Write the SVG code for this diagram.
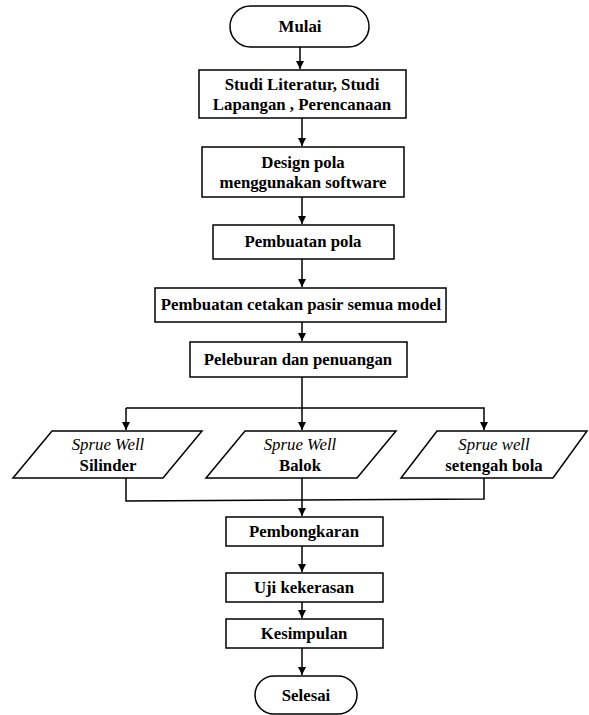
<svg xmlns="http://www.w3.org/2000/svg" width="589" height="715" viewBox="0 0 589 715">
<defs>
<marker id="ah" viewBox="0 0 10 10" refX="10" refY="5" markerWidth="8" markerHeight="8" markerUnits="userSpaceOnUse" orient="auto">
<path d="M0,0 L10,5 L0,10 z" fill="#000"/>
</marker>
<style>
.s{fill:#fff;stroke:#000;stroke-width:1.5}
.t{font-family:"Liberation Serif","Times New Roman",serif;font-size:16.8px;font-weight:bold;fill:#000;text-anchor:middle}
.i{font-style:italic;font-weight:normal}
.c{fill:none;stroke:#000;stroke-width:1.5}
</style>
</defs>
<rect width="589" height="715" fill="#fff"/>
<g id="connectors">
<line class="c" x1="300" y1="47" x2="300" y2="69" marker-end="url(#ah)"/>
<line class="c" x1="302" y1="118" x2="302" y2="146" marker-end="url(#ah)"/>
<line class="c" x1="302" y1="197" x2="302" y2="224" marker-end="url(#ah)"/>
<line class="c" x1="302" y1="259" x2="302" y2="287" marker-end="url(#ah)"/>
<line class="c" x1="302" y1="322" x2="302" y2="341" marker-end="url(#ah)"/>
<line class="c" x1="302" y1="377" x2="302" y2="430" marker-end="url(#ah)"/>
<polyline class="c" points="126,408 484,408 484,430" marker-end="url(#ah)"/>
<line class="c" x1="126" y1="408" x2="126" y2="430" marker-end="url(#ah)"/>
<polyline class="c" points="126,478 126,501 484,499 484,478"/>
<line class="c" x1="302" y1="478" x2="302" y2="516" marker-end="url(#ah)"/>
<line class="c" x1="302" y1="546" x2="302" y2="572" marker-end="url(#ah)"/>
<line class="c" x1="302" y1="602" x2="302" y2="618" marker-end="url(#ah)"/>
<line class="c" x1="302" y1="648" x2="302" y2="675" marker-end="url(#ah)"/>
</g>
<g id="mulai">
<rect class="s" x="230" y="6" width="139" height="41" rx="20.5"/>
<text class="t" x="300" y="32">Mulai</text>
</g>
<g id="studi">
<rect class="s" x="199" y="70" width="207" height="48"/>
<text class="t" x="302" y="90">Studi Literatur, Studi</text>
<text class="t" x="302" y="110">Lapangan , Perencanaan</text>
</g>
<g id="design">
<rect class="s" x="202" y="147" width="202" height="50"/>
<text class="t" x="303" y="168">Design pola</text>
<text class="t" x="303" y="188">menggunakan software</text>
</g>
<g id="pembuatan-pola">
<rect class="s" x="213" y="225" width="181" height="34"/>
<text class="t" x="303" y="247">Pembuatan pola</text>
</g>
<g id="cetakan">
<rect class="s" x="155" y="288" width="291" height="34"/>
<text class="t" x="301" y="310">Pembuatan cetakan pasir semua model</text>
</g>
<g id="peleburan">
<rect class="s" x="190" y="342" width="217" height="35"/>
<text class="t" x="298" y="365">Peleburan dan penuangan</text>
</g>
<g id="silinder">
<polygon class="s" points="52,431 202,431 163,478 13,478"/>
<text class="t i" x="108" y="450">Sprue Well</text>
<text class="t" x="108" y="471">Silinder</text>
</g>
<g id="balok">
<polygon class="s" points="245,431 396,431 357,478 206,478"/>
<text class="t i" x="300" y="450">Sprue Well</text>
<text class="t" x="300" y="471">Balok</text>
</g>
<g id="setengah-bola">
<polygon class="s" points="437,431 587,431 553,478 401,478"/>
<text class="t i" x="494" y="450">Sprue well</text>
<text class="t" x="494" y="471">setengah bola</text>
</g>
<g id="pembongkaran">
<rect class="s" x="226" y="517" width="157" height="29"/>
<text class="t" x="304" y="537">Pembongkaran</text>
</g>
<g id="uji">
<rect class="s" x="226" y="573" width="157" height="29"/>
<text class="t" x="304" y="593">Uji kekerasan</text>
</g>
<g id="kesimpulan">
<rect class="s" x="226" y="619" width="157" height="29"/>
<text class="t" x="304" y="639">Kesimpulan</text>
</g>
<g id="selesai">
<rect class="s" x="255" y="676" width="102" height="38" rx="19"/>
<text class="t" x="306" y="701">Selesai</text>
</g>
</svg>
